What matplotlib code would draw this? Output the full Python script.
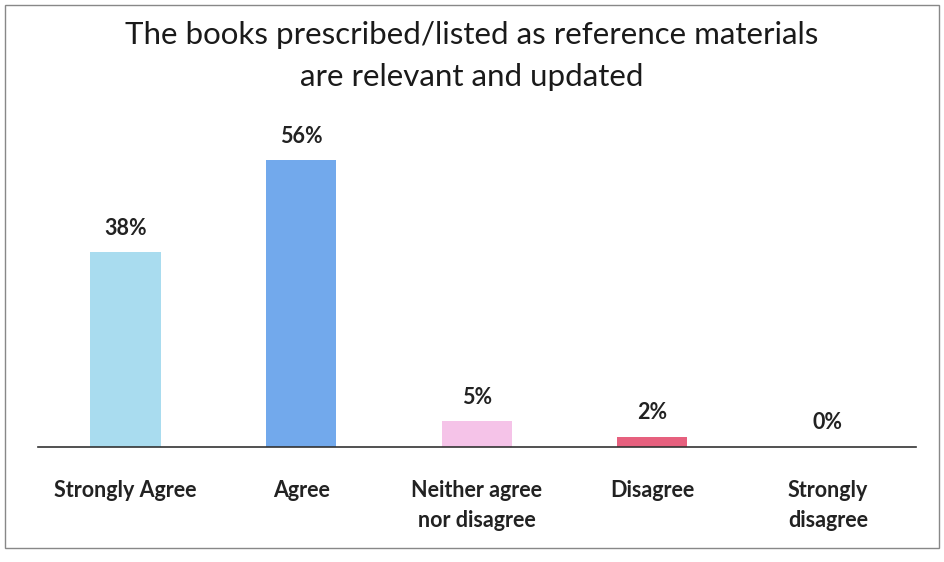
import matplotlib
matplotlib.use('Agg')
import matplotlib.pyplot as plt
import matplotlib.patches as mpatches

plt.rcParams['font.family'] = ['Lato', 'DejaVu Sans']

categories = ['Strongly Agree', 'Agree', 'Neither agree\nnor disagree',
              'Disagree', 'Strongly\ndisagree']
values = [38, 56, 5, 2, 0]
colors = ['#a9dcef', '#72a9ec', '#f5c3e8', '#e6607e', '#cccccc']

fig = plt.figure(figsize=(9.44, 5.62), dpi=100)
fig.patch.set_facecolor('white')
ax = fig.add_axes([0.04, 0.205, 0.93, 0.565])

x = range(len(categories))
bars = ax.bar(x, values, width=0.4, color=colors, edgecolor='none', zorder=2)

for b, v in zip(bars, values):
    ax.text(b.get_x() + b.get_width() / 2, v + 2.6, f'{v}%',
            ha='center', va='bottom', fontsize=15.5, fontweight='bold', color='#222222')

ax.set_xlim(-0.5, 4.5)
ax.set_ylim(0, 62)
ax.set_xticks(list(x))
ax.set_xticklabels(categories, fontsize=15.5, fontweight='bold', color='#222222',
                   linespacing=1.55)
ax.tick_params(axis='x', length=0, pad=24)
ax.set_yticks([])
for s in ['top', 'right', 'left']:
    ax.spines[s].set_visible(False)
ax.spines['bottom'].set_color('#333333')
ax.spines['bottom'].set_linewidth(1.2)

fig.text(0.5, 0.962, 'The books prescribed/listed as reference materials\nare relevant and updated',
         ha='center', va='top', fontsize=22.5, color='#1a1a1a', linespacing=1.6)

# outer frame
fig.patches.append(mpatches.Rectangle((0.005, 0.025), 0.99, 0.966, transform=fig.transFigure,
                                      fill=False, edgecolor='#888888', linewidth=1.0))

fig.savefig('out.png', dpi=100, facecolor='white')
